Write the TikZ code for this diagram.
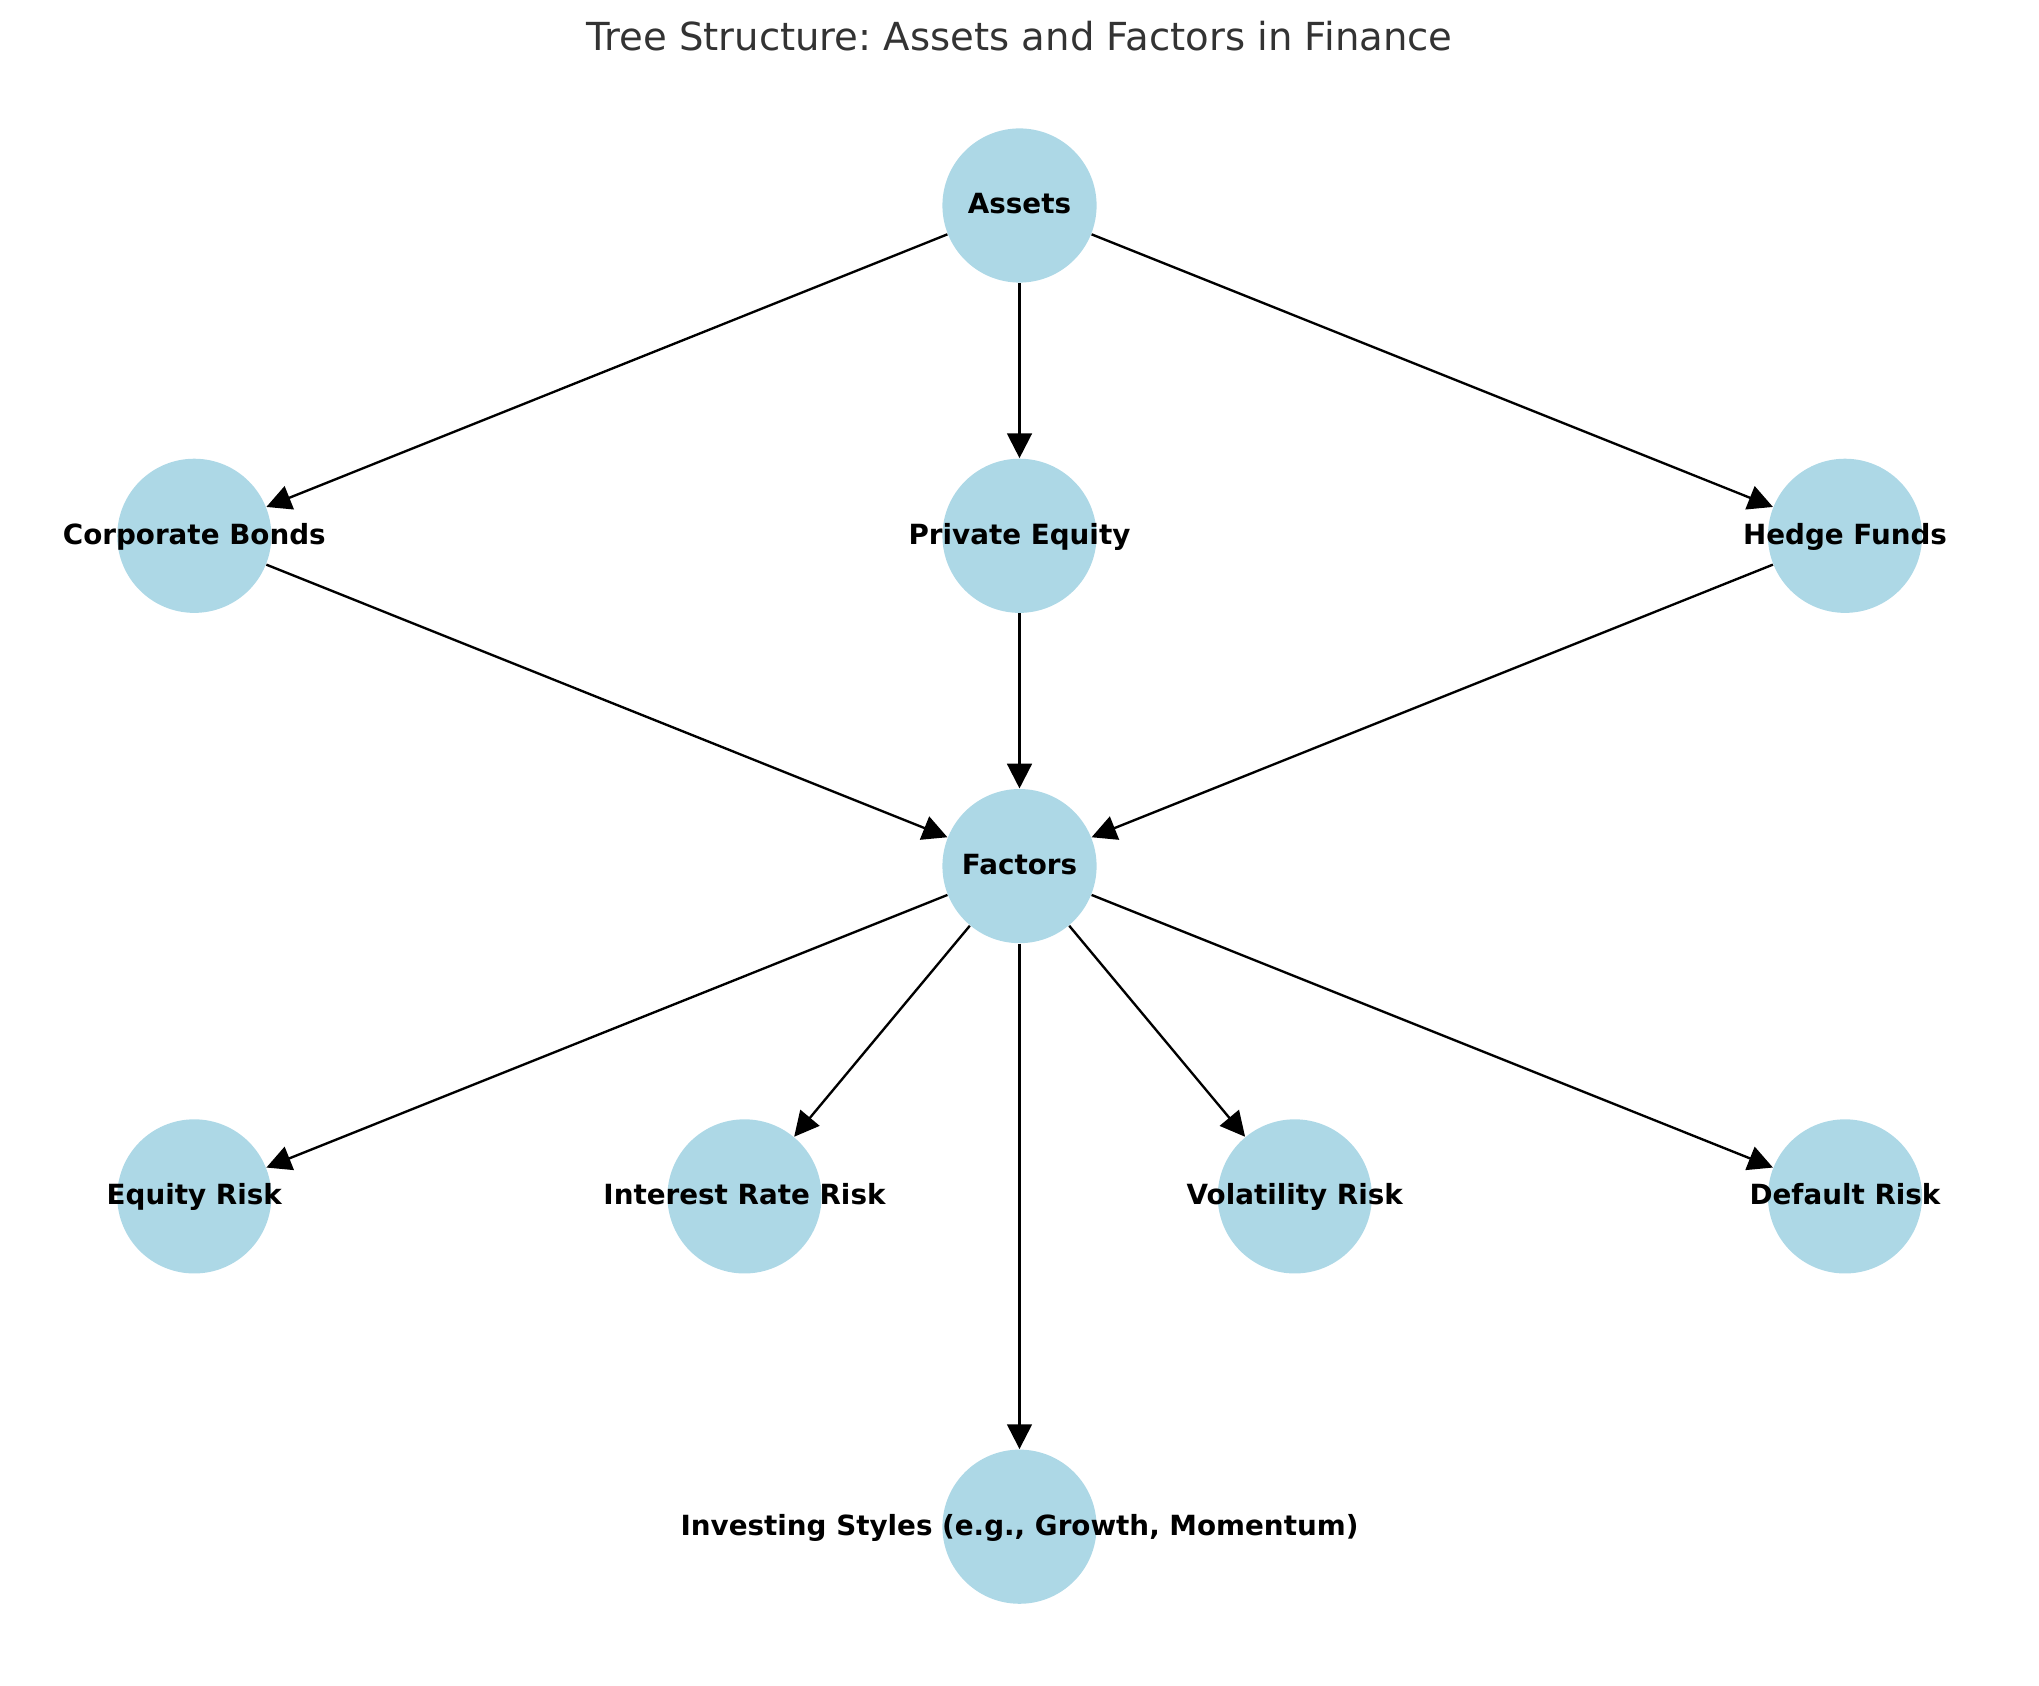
\documentclass[tikz,border=0pt]{standalone}
\usepackage{fontspec}
\setmainfont{DejaVu Sans}
\usetikzlibrary{arrows.meta}
\definecolor{nodeblue}{HTML}{ADD8E6}
\definecolor{titlegray}{HTML}{333333}
\frenchspacing
\begin{document}
\begin{tikzpicture}[x=0.36pt,y=-0.36pt,
  vertex/.style={circle,fill=nodeblue,draw=none,minimum size=55.5pt,inner sep=0pt},
  lbl/.style={font=\bfseries\fontsize{10}{12}\selectfont,text=black,inner sep=0pt,text height=8.5pt,text depth=2.4pt},
  edge/.style={line width=0.85pt,draw=black,-{Triangle[length=8.9pt,width=8.9pt]}}]
\useasboundingbox (0,0) rectangle (2039,1686);
\node[font=\fontsize{13.9}{16}\selectfont,text=titlegray,inner sep=0pt,text height=10.4pt,text depth=0pt] (title) at (1019.5,36) {Tree Structure: Assets and Factors in Finance};
% nodes
\node[vertex,label={[lbl]center:Assets}] (assets) at (1019.5,205.5) {};
\node[vertex,label={[lbl]center:Corporate Bonds}] (cb) at (194.3,535.8) {};
\node[vertex,label={[lbl]center:Private Equity}] (pe) at (1019.5,535.8) {};
\node[vertex,label={[lbl]center:Hedge Funds}] (hf) at (1845,535.8) {};
\node[vertex,label={[lbl]center:Factors}] (factors) at (1019.5,866.1) {};
\node[vertex,label={[lbl]center:Equity Risk}] (er) at (194.3,1196.4) {};
\node[vertex,label={[lbl]center:Interest Rate Risk}] (irr) at (744.5,1196.4) {};
\node[vertex,label={[lbl]center:Volatility Risk}] (vr) at (1294.8,1196.4) {};
\node[vertex,label={[lbl]center:Default Risk}] (dr) at (1845,1196.4) {};
\node[vertex,label={[lbl]center:Investing Styles (e.g., Growth, Momentum)}] (is) at (1019.5,1526.7) {};
% edges
\draw[edge] (assets) -- (cb);
\draw[edge] (assets) -- (pe);
\draw[edge] (assets) -- (hf);
\draw[edge] (cb) -- (factors);
\draw[edge] (pe) -- (factors);
\draw[edge] (hf) -- (factors);
\draw[edge] (factors) -- (er);
\draw[edge] (factors) -- (irr);
\draw[edge] (factors) -- (vr);
\draw[edge] (factors) -- (dr);
\draw[edge] (factors) -- (is);
\end{tikzpicture}
\end{document}
